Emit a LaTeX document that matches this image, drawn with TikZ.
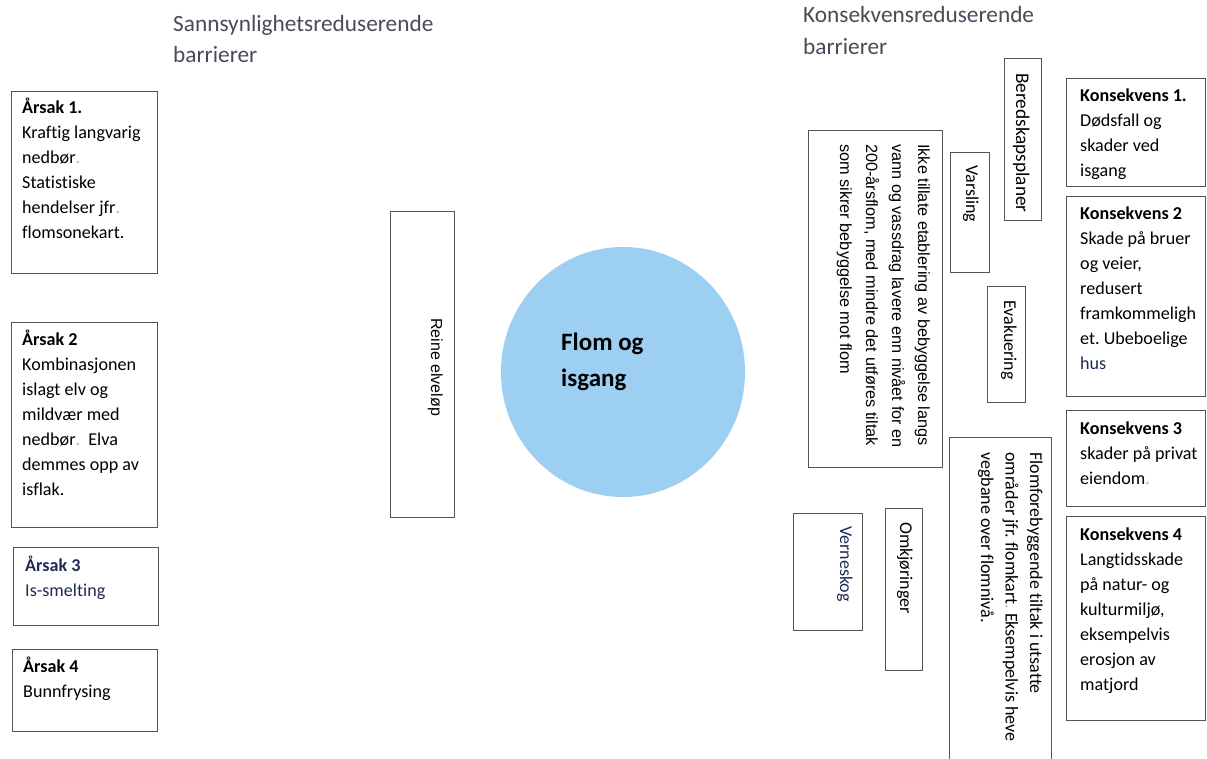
\documentclass[tikz,border=0pt]{standalone}
\usepackage{fontspec}
\setmainfont{Carlito}[Ligatures=NoCommon]
\newfontfamily\arialish{Liberation Sans}
\usetikzlibrary{shapes.geometric}
\frenchspacing
\definecolor{boxgray}{HTML}{555555}
\definecolor{hdrgray}{HTML}{4A4A5A}
\definecolor{floodblue}{HTML}{9DCFF2}
\definecolor{navy}{HTML}{1F2A55}
\definecolor{faint}{HTML}{B0B0B0}
\newcommand{\bodyfont}{\fontsize{18.1}{25}\selectfont}
\newcommand{\rotfont}{\fontsize{18}{25}\selectfont}
\newcommand{\hdrfont}{\fontsize{23.3}{31}\selectfont}
\tikzset{
  box/.style={draw=boxgray, line width=1.3pt, inner sep=0, anchor=north west},
  txt/.style={anchor=base west, inner sep=0, align=flush left, text width=#1, font=\bodyfont},
  rtxt/.style={anchor=base west, inner sep=0, align=flush left, text width=#1, rotate=-90, font=\rotfont},
}
\begin{document}
\begin{tikzpicture}[x=1pt,y=-1pt]
\clip (0,0) rectangle (1207,759);
\fill[white] (0,0) rectangle (1207,759);

% headers
\node[anchor=base west, inner sep=0, align=flush left, text width=320, font=\hdrfont, text=hdrgray] (hl) at (173,32) {Sannsynlighetsreduserende\\barrierer};
\node[anchor=base west, inner sep=0, align=flush left, text width=300, font=\fontsize{23.3}{32}\selectfont, text=hdrgray] (hr) at (803,23) {Konsekvensreduserende\\barrierer};

% causes
\node[box, minimum width=146, minimum height=182] (a1) at (11,91) {};
\node[txt=140] (a1t) at (22,114) {\textbf{Årsak 1.}\\Kraftig langvarig\\nedbør\textcolor{faint}{.}\\Statistiske\\hendelser jfr\textcolor{faint}{.}\\flomsonekart.};
\node[box, minimum width=146, minimum height=205] (a2) at (11,322) {};
\node[txt=140] (a2t) at (22,345) {\textbf{Årsak 2}\\Kombinasjonen\\islagt elv og\\mildvær med\\nedbør\textcolor{faint}{.}\ \ Elva\\demmes opp av\\isflak.};
\node[box, minimum width=145, minimum height=78] (a3) at (13,547) {};
\node[txt=135, text=navy] (a3t) at (25,571) {\textbf{Årsak 3}\\Is-smelting};
\node[box, minimum width=145, minimum height=82] (a4) at (12,649) {};
\node[txt=135] (a4t) at (23,672) {\textbf{Årsak 4}\\Bunnfrysing};

% probability barrier
\node[box, minimum width=64, minimum height=306] (reine) at (390,211) {};
\node[rtxt=200, font=\arialish\fontsize{16}{25}\selectfont] (reinet) at (431,318) {Reine elveløp};

% central event
\node[ellipse, fill=floodblue, minimum width=244, minimum height=250, inner sep=0] (flom) at (623,372) {};
\node[anchor=base west, inner sep=0, align=flush left, text width=150, font=\bfseries\fontsize{25}{36}\selectfont] (flomt) at (561,350) {Flom og\\isgang};

% consequence barriers
\node[box, minimum width=134, minimum height=337] (ikke) at (808,130) {};
\node[rtxt=330, font=\arialish\fontsize{16.3}{26}\selectfont] (ikket) at (918,144) {Ikke tillate etablering av bebyggelse langs\\vann og vassdrag lavere enn nivået for en\\200-årsflom, med mindre det utføres tiltak\\som sikrer bebyggelse mot flom};
\node[box, minimum width=39, minimum height=120] (vars) at (950,152) {};
\node[rtxt=110] (varst) at (966,165) {Varsling};
\node[box, minimum width=37, minimum height=162] (bered) at (1004,58) {};
\node[rtxt=150, font=\fontsize{19.3}{25}\selectfont] (beredt) at (1016,73) {Beredskapsplaner};
\node[box, minimum width=38, minimum height=116] (evak) at (987,286) {};
\node[rtxt=110] (evakt) at (1004,300) {Evakuering};
\node[box, minimum width=102, minimum height=340] (flomf) at (949,437) {};
\node[rtxt=300, font=\fontsize{18}{24.5}\selectfont] (flomft) at (1030,452) {Flomforebyggende tiltak i utsatte\\områder jfr. flomkart\textcolor{faint}{.} Eksempelvis heve\\vegbane over flomnivå.};
\node[box, minimum width=37, minimum height=162] (omk) at (885,508) {};
\node[rtxt=150] (omkt) at (900,522) {Omkjøringer};
\node[box, minimum width=69, minimum height=117] (vern) at (793,513) {};
\node[rtxt=110, text=navy] (vernt) at (840,526) {Verneskog};

% consequences
\node[box, minimum width=139, minimum height=108] (k1) at (1066,78) {};
\node[txt=125] (k1t) at (1080,102) {\textbf{Konsekvens 1.}\\Dødsfall og\\skader ved\\isgang};
\node[box, minimum width=139, minimum height=200] (k2) at (1066,196) {};
\node[txt=125] (k2t) at (1080,220) {\textbf{Konsekvens 2}\\Skade på bruer\\og veier,\\redusert\\framkommeligh\\et. Ubeboelige\\\textcolor{navy}{hus}};
\node[box, minimum width=139, minimum height=96] (k3) at (1066,410) {};
\node[txt=125] (k3t) at (1080,434) {\textbf{Konsekvens 3}\\skader på privat\\eiendom\textcolor{faint}{.}};
\node[box, minimum width=139, minimum height=204] (k4) at (1066,516) {};
\node[txt=125] (k4t) at (1080,540) {\textbf{Konsekvens 4}\\Langtidsskade\\på natur- og\\kulturmiljø,\\eksempelvis\\erosjon av\\matjord};
\end{tikzpicture}
\end{document}
